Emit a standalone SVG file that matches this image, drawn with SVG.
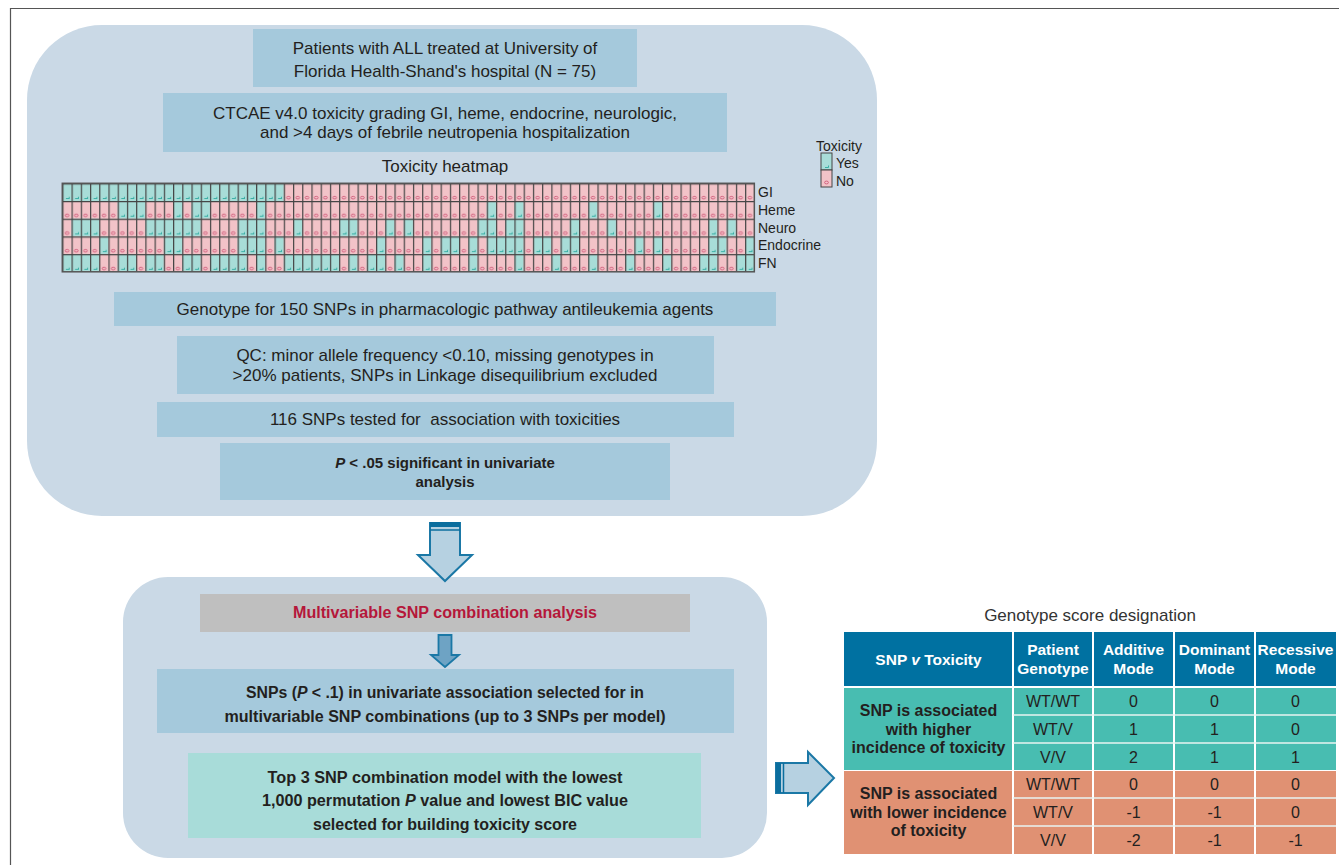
<svg xmlns="http://www.w3.org/2000/svg" width="1339" height="865" viewBox="0 0 1339 865">
<style>
.t{font-family:"Liberation Sans",Arial,sans-serif;font-size:17px;fill:#231f20;text-anchor:middle}
.b{font-weight:bold;font-size:15px}
.c{font-family:"Liberation Sans Narrow","Liberation Sans",Arial,sans-serif;font-weight:bold;font-size:16px;fill:#231f20;text-anchor:middle}
.lab{font-family:"Liberation Sans",Arial,sans-serif;font-size:14px;fill:#231f20}
.hd{font-family:"Liberation Sans",Arial,sans-serif;font-size:15.5px;font-weight:bold;fill:#fff;text-anchor:middle}
.cell{font-family:"Liberation Sans",Arial,sans-serif;font-size:16px;fill:#231f20;text-anchor:middle}
.cb{font-weight:bold}
.box{fill:#a5c9dc}
.panel{fill:#cad9e6}
.tl{fill:url(#teal)}
.arrow{fill:#b6d1e1;stroke:#1b78a6;stroke-width:2}
.band{fill:#0b6e9e}
</style>
<defs>
<pattern id="pink" patternUnits="userSpaceOnUse" x="62.3" y="183.3" width="9.227" height="17.7">
<rect width="9.227" height="17.7" fill="#f2c3c8"/>
<ellipse cx="4.8" cy="14.4" rx="1.9" ry="1.3" fill="none" stroke="#cf5878" stroke-width="0.9"/>
</pattern>
<pattern id="teal" patternUnits="userSpaceOnUse" x="62.3" y="183.3" width="9.227" height="17.7">
<rect width="9.227" height="17.7" fill="#a8ddd8"/>
<path d="M3.6,15.2 H6.9 V13.4" fill="none" stroke="#3aafa5" stroke-width="1"/>
</pattern>
<pattern id="grid" patternUnits="userSpaceOnUse" x="62.3" y="183.3" width="9.227" height="17.7">
<path d="M0.6,0 V17.7 M0,0.6 H9.227" fill="none" stroke="#454545" stroke-width="1.2"/>
</pattern>
</defs>
<rect width="1339" height="865" fill="#fff"/>
<path d="M10.5,865 V8.5 H1339" fill="none" stroke="#555" stroke-width="1.2"/>

<g id="panel1">
<rect class="panel" x="27" y="25" width="850" height="491" rx="75"/>
</g>
<g id="n1">
<rect class="box" x="253" y="29" width="384" height="58"/>
<text class="t" x="445" y="54">Patients with ALL treated at University of</text>
<text class="t" x="445" y="77">Florida Health-Shand's hospital (N = 75)</text>
</g>
<g id="n2">
<rect class="box" x="163" y="93" width="564" height="59"/>
<text class="t" x="445" y="119">CTCAE v4.0 toxicity grading GI, heme, endocrine, neurologic,</text>
<text class="t" x="445" y="138">and &gt;4 days of febrile neutropenia hospitalization</text>
</g>
<g id="heatmap">
<text class="t" x="445" y="172">Toxicity heatmap</text>
<rect x="62.3" y="183.3" width="692.03" height="88.5" fill="url(#pink)"/>
<g class="tl">
<rect x="62.30" y="183.3" width="221.45" height="17.7"/>
<rect x="117.66" y="201" width="27.68" height="17.7"/>
<rect x="173.02" y="201" width="9.23" height="17.7"/>
<rect x="191.48" y="201" width="18.45" height="17.7"/>
<rect x="256.07" y="201" width="9.22" height="17.7"/>
<rect x="486.74" y="201" width="9.23" height="17.7"/>
<rect x="514.42" y="201" width="9.23" height="17.7"/>
<rect x="588.24" y="201" width="9.23" height="17.7"/>
<rect x="652.83" y="201" width="9.23" height="17.7"/>
<rect x="71.53" y="218.7" width="27.68" height="17.7"/>
<rect x="145.34" y="218.7" width="55.37" height="17.7"/>
<rect x="237.61" y="218.7" width="27.68" height="17.7"/>
<rect x="292.98" y="218.7" width="9.22" height="17.7"/>
<rect x="339.11" y="218.7" width="18.45" height="17.7"/>
<rect x="385.25" y="218.7" width="9.22" height="17.7"/>
<rect x="403.70" y="218.7" width="9.23" height="17.7"/>
<rect x="477.52" y="218.7" width="18.45" height="17.7"/>
<rect x="505.20" y="218.7" width="18.45" height="17.7"/>
<rect x="569.79" y="218.7" width="9.22" height="17.7"/>
<rect x="606.69" y="218.7" width="9.23" height="17.7"/>
<rect x="708.19" y="218.7" width="9.23" height="17.7"/>
<rect x="726.64" y="218.7" width="9.23" height="17.7"/>
<rect x="99.21" y="236.4" width="9.23" height="17.7"/>
<rect x="163.80" y="236.4" width="18.45" height="17.7"/>
<rect x="237.61" y="236.4" width="27.68" height="17.7"/>
<rect x="274.52" y="236.4" width="9.23" height="17.7"/>
<rect x="376.02" y="236.4" width="9.23" height="17.7"/>
<rect x="422.15" y="236.4" width="9.23" height="17.7"/>
<rect x="440.61" y="236.4" width="18.45" height="17.7"/>
<rect x="468.29" y="236.4" width="9.23" height="17.7"/>
<rect x="486.74" y="236.4" width="36.91" height="17.7"/>
<rect x="532.88" y="236.4" width="18.45" height="17.7"/>
<rect x="560.56" y="236.4" width="18.45" height="17.7"/>
<rect x="634.37" y="236.4" width="9.23" height="17.7"/>
<rect x="652.83" y="236.4" width="9.23" height="17.7"/>
<rect x="708.19" y="236.4" width="18.45" height="17.7"/>
<rect x="745.10" y="236.4" width="9.23" height="17.7"/>
<rect x="62.30" y="254.1" width="36.91" height="17.7"/>
<rect x="117.66" y="254.1" width="18.46" height="17.7"/>
<rect x="145.34" y="254.1" width="18.46" height="17.7"/>
<rect x="182.25" y="254.1" width="18.46" height="17.7"/>
<rect x="209.93" y="254.1" width="36.91" height="17.7"/>
<rect x="256.07" y="254.1" width="9.22" height="17.7"/>
<rect x="283.75" y="254.1" width="55.36" height="17.7"/>
<rect x="348.34" y="254.1" width="9.22" height="17.7"/>
<rect x="366.79" y="254.1" width="18.46" height="17.7"/>
<rect x="394.47" y="254.1" width="9.23" height="17.7"/>
<rect x="422.15" y="254.1" width="9.23" height="17.7"/>
<rect x="468.29" y="254.1" width="9.23" height="17.7"/>
<rect x="514.42" y="254.1" width="9.23" height="17.7"/>
<rect x="551.33" y="254.1" width="9.23" height="17.7"/>
<rect x="588.24" y="254.1" width="9.23" height="17.7"/>
<rect x="625.15" y="254.1" width="9.22" height="17.7"/>
<rect x="662.06" y="254.1" width="9.22" height="17.7"/>
<rect x="698.96" y="254.1" width="18.46" height="17.7"/>
<rect x="735.87" y="254.1" width="18.46" height="17.7"/>
</g>
<rect x="62.3" y="183.3" width="692.03" height="88.5" fill="url(#grid)"/>
<rect x="62.3" y="183.3" width="692.03" height="88.5" fill="none" stroke="#555" stroke-width="1.5"/>
<text class="lab" x="758" y="197">GI</text>
<text class="lab" x="758" y="215">Heme</text>
<text class="lab" x="758" y="233">Neuro</text>
<text class="lab" x="758" y="250">Endocrine</text>
<text class="lab" x="758" y="268">FN</text>
</g>
<g id="legend">
<text class="lab" x="839" y="151" text-anchor="middle" font-size="14.5">Toxicity</text>
<rect x="821" y="153" width="11" height="17" fill="#a8ddd8" stroke="#444" stroke-width="1"/>
<path d="M825,167.5 H828.5 V165.5" fill="none" stroke="#3aafa5" stroke-width="1"/>
<rect x="821" y="170" width="11" height="17" fill="#f2c3c8" stroke="#444" stroke-width="1"/>
<ellipse cx="826.5" cy="182.5" rx="1.9" ry="1.4" fill="none" stroke="#cf5878" stroke-width="0.9"/>
<text class="lab" x="836" y="168">Yes</text>
<text class="lab" x="836" y="186">No</text>
</g>
<g id="n3">
<rect class="box" x="114" y="292" width="662" height="34"/>
<text class="t" x="445" y="315">Genotype for 150 SNPs in pharmacologic pathway antileukemia agents</text>
</g>
<g id="n4">
<rect class="box" x="177" y="336" width="537" height="58"/>
<text class="t" x="445" y="361">QC: minor allele frequency &lt;0.10, missing genotypes in</text>
<text class="t" x="445" y="381">&gt;20% patients, SNPs in Linkage disequilibrium excluded</text>
</g>
<g id="n5">
<rect class="box" x="157" y="402" width="577" height="35"/>
<text class="t" x="445" y="425" xml:space="preserve">116 SNPs tested for  association with toxicities</text>
</g>
<g id="n6">
<rect class="box" x="220" y="443" width="450" height="57"/>
<text class="t b" x="445" y="468"><tspan font-style="italic">P</tspan> &lt; .05 significant in univariate</text>
<text class="t b" x="445" y="487">analysis</text>
</g>

<g id="panel2">
<rect class="panel" x="123" y="577" width="644" height="281" rx="45"/>
</g>
<g id="n7">
<rect x="200" y="594" width="490" height="38" fill="#bfbfbf"/>
<text class="c" x="445" y="618" style="fill:#b5173a" textLength="304" lengthAdjust="spacingAndGlyphs">Multivariable SNP combination analysis</text>
</g>
<g id="n8">
<rect class="box" x="157" y="669" width="577" height="64"/>
<text class="c" x="445" y="698" textLength="398" lengthAdjust="spacingAndGlyphs">SNPs (<tspan font-style="italic">P</tspan> &lt; .1) in univariate association selected for in</text>
<text class="c" x="445" y="722" textLength="441" lengthAdjust="spacingAndGlyphs">multivariable SNP combinations (up to 3 SNPs per model)</text>
</g>
<g id="n9">
<rect x="188" y="753" width="513" height="85" fill="#a8dcd9"/>
<text class="c" x="445" y="783" textLength="355" lengthAdjust="spacingAndGlyphs">Top 3 SNP combination model with the lowest</text>
<text class="c" x="445" y="806" textLength="366" lengthAdjust="spacingAndGlyphs">1,000 permutation <tspan font-style="italic">P</tspan> value and lowest BIC value</text>
<text class="c" x="445" y="830" textLength="264" lengthAdjust="spacingAndGlyphs">selected for building toxicity score</text>
</g>

<g id="connectors">
<polygon class="arrow" points="430,523 460,523 460,555 472,555 445,581 418,555 430,555"/>
<rect class="band" x="430" y="522" width="30" height="5"/>
<line x1="430" y1="530" x2="460" y2="530" stroke="#0b6e9e" stroke-width="1.5"/>
<polygon points="438.5,635 451.5,635 451.5,655 459,655 445,667 431,655 438.5,655" fill="#6ea3c4" stroke="#1b78a6" stroke-width="1.8"/>
<polygon class="arrow" points="776,763 808,763 808,752 834,778 808,805 808,793 776,793"/>
<rect class="band" x="776" y="763" width="5" height="30"/>
<line x1="783.5" y1="763" x2="783.5" y2="793" stroke="#0b6e9e" stroke-width="1.5"/>
</g>

<g id="table">
<text class="t" x="1090" y="621" style="fill:#333">Genotype score designation</text>
<rect x="844" y="632" width="492" height="54" fill="#0071a1"/>
<rect x="844" y="688" width="492" height="82" fill="#48bdb1"/>
<rect x="844" y="771" width="492" height="83" fill="#e09173"/>
<g stroke="#fff" stroke-width="2">
<line x1="1013" y1="632" x2="1013" y2="854"/>
<line x1="1093" y1="632" x2="1093" y2="854"/>
<line x1="1174" y1="632" x2="1174" y2="854"/>
<line x1="1255" y1="632" x2="1255" y2="854"/>
</g>
<g stroke="#e8f4f2" stroke-width="1.5">
<line x1="1013" y1="715" x2="1336" y2="715"/>
<line x1="1013" y1="743" x2="1336" y2="743"/>
<line x1="1013" y1="798" x2="1336" y2="798"/>
<line x1="1013" y1="826" x2="1336" y2="826"/>
</g>
<text class="hd" x="928.5" y="665">SNP <tspan font-style="italic">v</tspan> Toxicity</text>
<text class="hd" x="1053" y="655">Patient</text>
<text class="hd" x="1053" y="674">Genotype</text>
<text class="hd" x="1133.5" y="655">Additive</text>
<text class="hd" x="1133.5" y="674">Mode</text>
<text class="hd" x="1214.5" y="655">Dominant</text>
<text class="hd" x="1214.5" y="674">Mode</text>
<text class="hd" x="1295.5" y="655">Recessive</text>
<text class="hd" x="1295.5" y="674">Mode</text>
<text class="cell cb" x="928.5" y="716">SNP is associated</text>
<text class="cell cb" x="928.5" y="735">with higher</text>
<text class="cell cb" x="928.5" y="753">incidence of toxicity</text>
<text class="cell cb" x="928.5" y="799">SNP is associated</text>
<text class="cell cb" x="928.5" y="818">with lower incidence</text>
<text class="cell cb" x="928.5" y="836">of toxicity</text>
<text class="cell" x="1053" y="707">WT/WT</text>
<text class="cell" x="1053" y="735">WT/V</text>
<text class="cell" x="1053" y="763">V/V</text>
<text class="cell" x="1053" y="790">WT/WT</text>
<text class="cell" x="1053" y="818">WT/V</text>
<text class="cell" x="1053" y="846">V/V</text>
<text class="cell" x="1133.5" y="707">0</text>
<text class="cell" x="1133.5" y="735">1</text>
<text class="cell" x="1133.5" y="763">2</text>
<text class="cell" x="1133.5" y="790">0</text>
<text class="cell" x="1133.5" y="818">-1</text>
<text class="cell" x="1133.5" y="846">-2</text>
<text class="cell" x="1214.5" y="707">0</text>
<text class="cell" x="1214.5" y="735">1</text>
<text class="cell" x="1214.5" y="763">1</text>
<text class="cell" x="1214.5" y="790">0</text>
<text class="cell" x="1214.5" y="818">-1</text>
<text class="cell" x="1214.5" y="846">-1</text>
<text class="cell" x="1295.5" y="707">0</text>
<text class="cell" x="1295.5" y="735">0</text>
<text class="cell" x="1295.5" y="763">1</text>
<text class="cell" x="1295.5" y="790">0</text>
<text class="cell" x="1295.5" y="818">0</text>
<text class="cell" x="1295.5" y="846">-1</text>
</g>
</svg>
